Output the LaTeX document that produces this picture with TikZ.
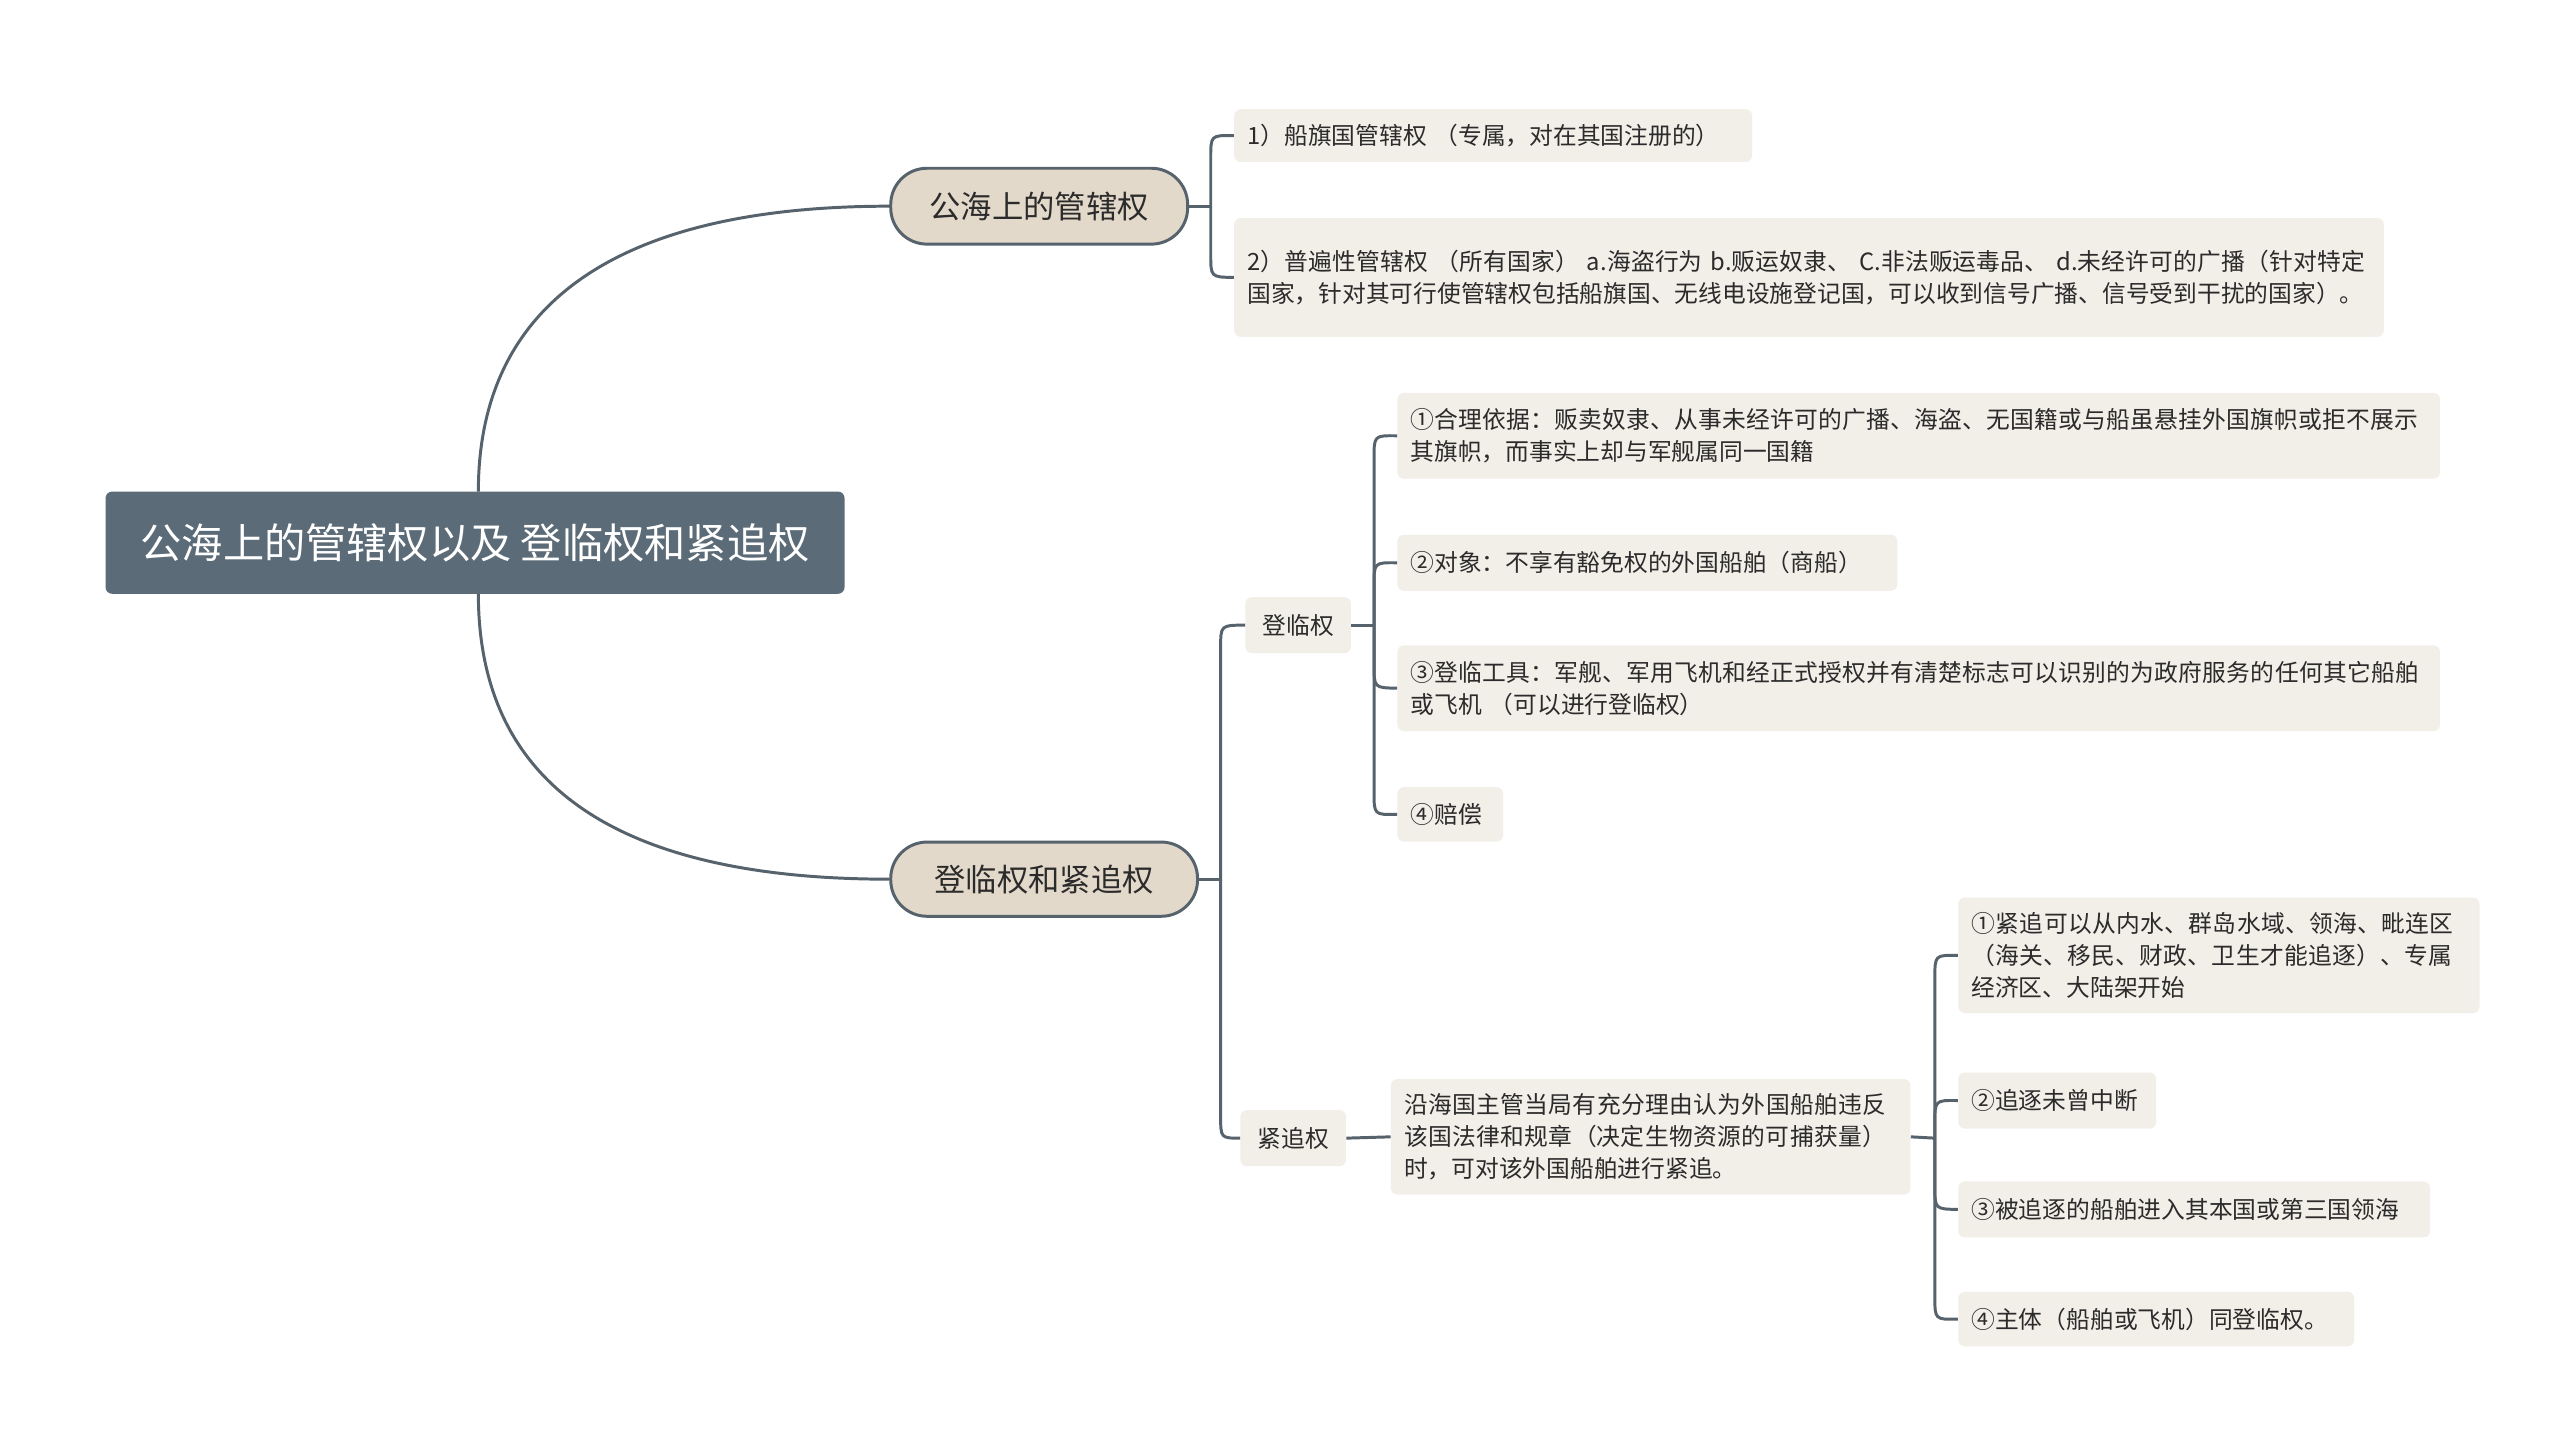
\documentclass[tikz,border=0pt]{standalone}
\usepackage{fontspec}
\setmainfont{Noto Sans CJK SC}
\XeTeXlinebreaklocale "zh"
\XeTeXlinebreakskip=0pt plus 1pt
\begin{document}
\begin{tikzpicture}[x=1pt,y=-1pt,
  conn/.style={draw=lc,line width=1.8pt},
  leaf/.style={fill=lf,rounded corners=4pt,anchor=north west,inner xsep=8pt,inner ysep=0pt,align=left,font=\fontsize{14.4}{19.5}\selectfont,text=tc},
  mid/.style={fill=mf,draw=lc,line width=1.8pt,rounded corners=22pt,font=\fontsize{19}{22}\selectfont,text=tc,inner sep=0pt}]
\definecolor{lc}{HTML}{56626C}
\definecolor{lf}{HTML}{F2EEE8}
\definecolor{mf}{HTML}{E3D9CA}
\definecolor{tc}{HTML}{2B2B2B}
\definecolor{rf}{HTML}{5B6B77}
\useasboundingbox (0,0) rectangle (1552,872);
\fill[white] (0,0) rectangle (1552,872);
% root
\node[fill=rf,rounded corners=4pt,minimum width=448pt,minimum height=62pt,text=white,font=\fontsize{25}{30}\selectfont,inner sep=0pt] (root) at (288,329) {公海上的管辖权以及 登临权和紧追权};
% level 1
\node[mid,minimum width=180pt,minimum height=46pt] (a) at (630,125) {公海上的管辖权};
\node[mid,minimum width=186pt,minimum height=45pt] (b) at (633,533) {登临权和紧追权};
\draw[conn] (290,298) .. controls (290,180) and (380,125) .. (a.west);
\draw[conn] (290,360) .. controls (290,480) and (380,533) .. (b.west);
% a children
\node[leaf,minimum height=32pt,text width=298pt] (a1) at (748,66) {1）船旗国管辖权 （专属，对在其国注册的）};
\node[leaf,minimum height=72pt,text width=681pt] (a2) at (748,132) {2）普遍性管辖权 （所有国家） a.海盗行为 b.贩运奴隶、 C.非法贩运毒品、 d.未经许可的广播（针对特定国家，针对其可行使管辖权包括船旗国、无线电设施登记国，可以收到信号广播、信号受到干扰的国家）。};
\coordinate (aj) at (734,125);
\draw[conn] (a.east) -- (aj);
\draw[conn] (aj) -- (734,96) .. controls (734,82) .. (a1.west);
\draw[conn] (aj) -- (734,154) .. controls (734,168) .. (a2.west);
% b children
\node[leaf,minimum height=34pt,minimum width=64pt,anchor=center,inner xsep=0pt] (c) at (787,379) {登临权};
\node[leaf,minimum height=34pt,minimum width=64pt,anchor=center,inner xsep=0pt] (d) at (784,690) {紧追权};
\coordinate (bj) at (740,533);
\draw[conn] (b.east) -- (bj);
\draw[conn] (bj) -- (740,393) .. controls (740,379) .. (c.west);
\draw[conn] (bj) -- (740,676) .. controls (740,690) .. (d.west);
% 登临权 children
\node[leaf,minimum height=52pt,text width=616pt] (c1) at (847,238) {①合理依据：贩卖奴隶、从事未经许可的广播、海盗、无国籍或与船虽悬挂外国旗帜或拒不展示其旗帜，而事实上却与军舰属同一国籍};
\node[leaf,minimum height=34pt,text width=287pt] (c2) at (847,324) {②对象：不享有豁免权的外国船舶（商船）};
\node[leaf,minimum height=52pt,text width=616pt] (c3) at (847,391) {③登临工具：军舰、军用飞机和经正式授权并有清楚标志可以识别的为政府服务的任何其它船舶或飞机 （可以进行登临权）};
\node[leaf,minimum height=33pt,text width=48pt] (c4) at (847,477) {④赔偿};
\coordinate (cj) at (833,379);
\draw[conn] (c.east) -- (cj);
\draw[conn] (cj) -- (833,278) .. controls (833,264) .. (c1.west);
\draw[conn] (cj) -- (833,355) .. controls (833,341) .. (c2.west);
\draw[conn] (cj) -- (833,403) .. controls (833,417) .. (c3.west);
\draw[conn] (cj) -- (833,480) .. controls (833,494) .. (c4.west);
% 紧追权
\node[leaf,minimum height=70pt,text width=299pt] (e) at (843,654) {沿海国主管当局有充分理由认为外国船舶违反该国法律和规章（决定生物资源的可捕获量）时，可对该外国船舶进行紧追。};
\draw[conn] (d.east) -- (e.west);
\node[leaf,minimum height=70pt,text width=300pt] (e1) at (1187,544) {①紧追可以从内水、群岛水域、领海、毗连区（海关、移民、财政、卫生才能追逐）、专属经济区、大陆架开始};
\node[leaf,minimum height=34pt,text width=104pt] (e2) at (1187,650) {②追逐未曾中断};
\node[leaf,minimum height=34pt,text width=270pt] (e3) at (1187,716) {③被追逐的船舶进入其本国或第三国领海};
\node[leaf,minimum height=33pt,text width=224pt] (e4) at (1187,783) {④主体（船舶或飞机）同登临权。};
\coordinate (ej) at (1173,690);
\draw[conn] (e.east) -- (ej);
\draw[conn] (ej) -- (1173,593) .. controls (1173,579) .. (e1.west);
\draw[conn] (ej) -- (1173,681) .. controls (1173,667) .. (e2.west);
\draw[conn] (ej) -- (1173,719) .. controls (1173,733) .. (e3.west);
\draw[conn] (ej) -- (1173,786) .. controls (1173,800) .. (e4.west);
\end{tikzpicture}
\end{document}
